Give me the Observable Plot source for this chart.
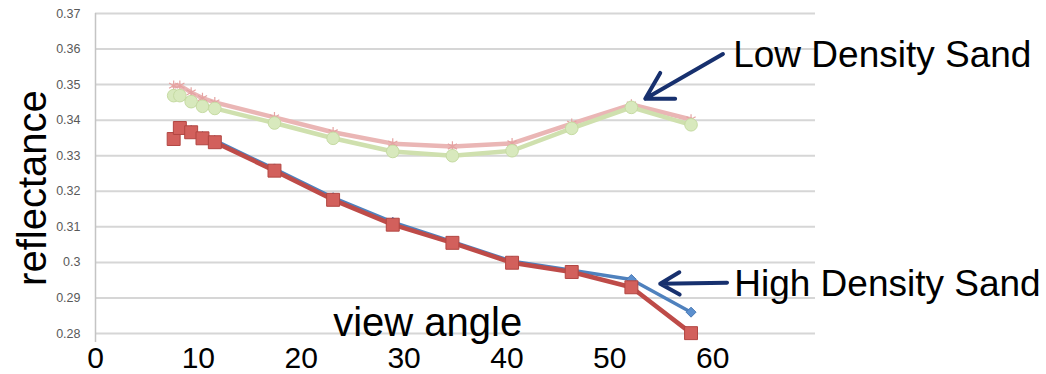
<!DOCTYPE html>
<html><head><meta charset="utf-8">
<script src="https://cdn.jsdelivr.net/npm/d3@7"></script>
<script src="https://cdn.jsdelivr.net/npm/@observablehq/plot@0.6"></script>
<style>
html,body{margin:0;padding:0;background:#fff;}
#chart{width:1046px;height:374px;overflow:hidden;}
</style></head><body><div id="chart"></div>
<script>
// view angle (x) shared by all series
const viewAngle = [7.6, 8.2, 9.3, 10.4, 11.6, 17.4, 23.1, 28.9, 34.7, 40.5, 46.3, 52.1, 57.9];
// High density sand
const highBlue = [0.3352, 0.3383, 0.3371, 0.3354, 0.3343, 0.3263, 0.3182, 0.3113, 0.3058, 0.3003, 0.2978, 0.2952, 0.2860];
const highRed  = [0.3347, 0.3378, 0.3366, 0.3349, 0.3338, 0.3258, 0.3176, 0.3106, 0.3055, 0.2999, 0.2973, 0.2930, 0.2801];
// Low density sand
const lowPink  = [0.3497, 0.3497, 0.3478, 0.3462, 0.3450, 0.3408, 0.3366, 0.3334, 0.3326, 0.3335, 0.3390, 0.3444, 0.3402];
const lowGreen = [0.3469, 0.3469, 0.3452, 0.3439, 0.3433, 0.3392, 0.3349, 0.3312, 0.3300, 0.3314, 0.3377, 0.3436, 0.3387];
// axis ticks
const xTicks = [0, 10, 20, 30, 40, 50, 60];
const yTicks = [0.28, 0.29, 0.30, 0.31, 0.32, 0.33, 0.34, 0.35, 0.36, 0.37];
// axis titles (anchored in data units)
const axisTitles = [
  {t: "view angle", x: 32.3, y: 0.2794, rotate: 0},
  {t: "reflectance", x: -4.85, y: 0.3209, rotate: -90}
];
// annotations (data units)
const annLabels = ["Low Density Sand", "High Density Sand"];
const annTextX = [62.0, 62.1];
const annTextY = [0.3549, 0.2906];
const arrowX1 = [61.0, 61.4];
const arrowY1 = [0.3586, 0.2943];
const arrowX2 = [53.45, 54.9];
const arrowY2 = [0.3460, 0.2940];

const toRows = ys => viewAngle.map((x, i) => ({x, y: ys[i]}));
const blue = toRows(highBlue), red = toRows(highRed), pink = toRows(lowPink), green = toRows(lowGreen);
const labels = annLabels.map((t, i) => ({t, x: annTextX[i], y: annTextY[i]}));
const arrows = arrowX1.map((x1, i) => ({x1, y1: arrowY1[i], x2: arrowX2[i], y2: arrowY2[i]}));

const chart = Plot.plot({
  width: 1046, height: 374,
  marginLeft: 95, marginRight: 231, marginTop: 13, marginBottom: 41,
  style: {fontFamily: "'Liberation Sans', Arial, sans-serif", background: "white", color: "black", overflow: "visible"},
  x: {domain: [0, 70]},
  y: {domain: [0.28, 0.37]},
  marks: [
    Plot.ruleY(yTicks, {stroke: "#d6d6d6", strokeWidth: 2}),
    Plot.ruleX([0], {y1: 0.2775, y2: 0.37, stroke: "#c4c4c4", strokeWidth: 1.5}),
    Plot.axisY({ticks: yTicks, tickSize: 0, tickPadding: 15, tickFormat: d => String(+d.toFixed(2)), fontSize: 12.5, fill: "#595959", label: null}),
    Plot.axisX({ticks: xTicks, tickSize: 0, tickPadding: 13, fontSize: 30, fill: "black", label: null}),
    Plot.line(pink, {x: "x", y: "y", stroke: "#eab6b5", strokeWidth: 4.5}),
    Plot.line(green, {x: "x", y: "y", stroke: "#cfe0ae", strokeWidth: 4.5}),
    Plot.dot(pink, {x: "x", y: "y", symbol: "asterisk", r: 5, stroke: "#e5a3a2", strokeWidth: 1.2}),
    Plot.dot(green, {x: "x", y: "y", symbol: "circle", r: 6.3, fill: "#d8e9bd", stroke: "#c6dba3", strokeWidth: 1}),
    Plot.line(blue, {x: "x", y: "y", stroke: "#4f81bd", strokeWidth: 3.5}),
    Plot.dot(blue, {x: "x", y: "y", symbol: "diamond2", r: 4.5, fill: "#5b8fce", stroke: "#4a7ab5", strokeWidth: 1}),
    Plot.line(red, {x: "x", y: "y", stroke: "#be4b48", strokeWidth: 4.5}),
    Plot.dot(red, {x: "x", y: "y", symbol: "square", r: 7.3, fill: "#d2605c", stroke: "#b24642", strokeWidth: 1}),
    Plot.text(axisTitles, {x: "x", y: "y", text: "t", rotate: "rotate", lineAnchor: "bottom", textAnchor: "middle", fontSize: 40, fill: "black"}),
    Plot.arrow(arrows, {x1: "x1", y1: "y1", x2: "x2", y2: "y2", stroke: "#17306e", strokeWidth: 4, headLength: 22, headAngle: 60}),
    Plot.text(labels, {x: "x", y: "y", text: "t", textAnchor: "start", lineAnchor: "bottom", fontSize: 37, fill: "black"})
  ]
});
document.getElementById("chart").appendChild(chart);
</script>
</body></html>
